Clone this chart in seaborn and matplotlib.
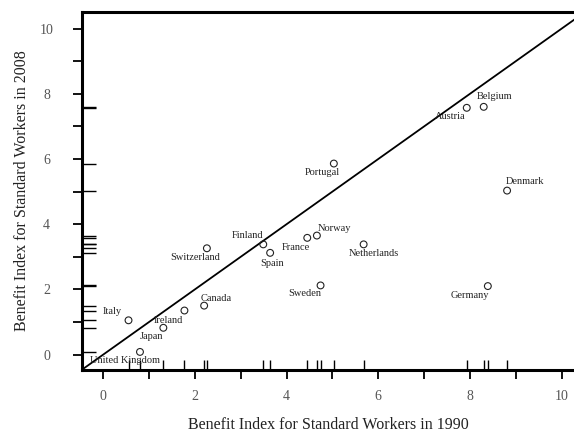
import matplotlib
matplotlib.use("Agg")
import matplotlib.pyplot as plt
import seaborn as sns
import pandas as pd
import numpy as np
from matplotlib.ticker import MultipleLocator

# Benefit index per country, 1990 vs 2008
countries = ["Italy", "Ireland", "Japan", "United Kingdom", "Canada", "Switzerland",
             "Finland", "Spain", "France", "Norway", "Sweden", "Netherlands",
             "Portugal", "Denmark", "Germany", "Austria", "Belgium"]
benefit_1990 = [0.55, 1.77, 1.31, 0.80, 2.20, 2.26,
                3.49, 3.64, 4.45, 4.66, 4.74, 5.68,
                5.03, 8.81, 8.39, 7.93, 8.30]
benefit_2008 = [1.05, 1.35, 0.82, 0.08, 1.50, 3.26,
                3.38, 3.12, 3.58, 3.65, 2.12, 3.38,
                5.86, 5.03, 2.10, 7.57, 7.60]
# label placement relative to each point (points: right, up)
label_dx = [-12, -11.5, -8.5, -10.5, 8.5, -8.5,
            -11, 1.5, -8, 13, -11.5, 7.5,
            -8, 13, -13, -12, 8]
label_dy = [6, -7, -6.5, -6.5, 5, -7,
            6.5, -8, -7, 5, -6, -6.5,
            -6.5, 6.5, -6.5, -6, 7.5]

x_ticks = [0, 2, 4, 6, 8, 10]
y_ticks = [0, 2, 4, 6, 8, 10]

df = pd.DataFrame({"country": countries, "b1990": benefit_1990, "b2008": benefit_2008})

sns.set_theme(style="white")
plt.rcParams["font.family"] = ["Liberation Serif", "DejaVu Serif"]

fig = plt.figure(figsize=(5.74, 4.34), dpi=100)
W, H = 574, 434
ax = fig.add_axes([82 / W, 1 - 370 / H, (W - 82) / W, (370 - 12) / H])

ax.set_xlim(-0.465, 10.27)
ax.set_ylim(-0.475, 10.51)

# 45-degree reference line
lim = np.array([-1.0, 11.0])
ax.plot(lim, lim, color="black", lw=1.3, zorder=2)

sns.scatterplot(data=df, x="b1990", y="b2008", ax=ax, marker="o", s=24,
                facecolor="none", edgecolor="#222222", linewidth=0.8, zorder=3)

# rug marks along both axes
sns.rugplot(data=df, x="b1990", ax=ax, height=0.028, color="black", lw=1.1, expand_margins=False)
sns.rugplot(data=df, y="b2008", ax=ax, height=0.028, color="black", lw=1.1, expand_margins=False)

for name, xv, yv, dx, dy in zip(countries, benefit_1990, benefit_2008, label_dx, label_dy):
    ax.annotate(name, (xv, yv), xytext=(dx, dy), textcoords="offset points",
                ha="center", va="center", fontsize=7.5, color="#222222", zorder=4)

for side in ["left", "bottom", "top"]:
    ax.spines[side].set_linewidth(2.2)
    ax.spines[side].set_color("black")
ax.spines["right"].set_visible(False)

ax.set_xticks(x_ticks)
ax.set_yticks(y_ticks)
ax.xaxis.set_minor_locator(MultipleLocator(1))
ax.yaxis.set_minor_locator(MultipleLocator(1))
ax.tick_params(axis="both", which="both", direction="out", length=6.5, width=1.3,
               color="black", labelsize=10, labelcolor="#555555")
ax.tick_params(axis="x", which="both", bottom=True, top=False, pad=8)
ax.tick_params(axis="y", which="both", left=True, right=False, pad=19)
for lab in ax.get_yticklabels():
    lab.set_horizontalalignment("center")

ax.set_xlabel("Benefit Index for Standard Workers in 1990", fontsize=11.5, color="#222222", labelpad=10)
ax.set_ylabel("Benefit Index for Standard Workers in 2008", fontsize=11.5, color="#222222", labelpad=7)

fig.savefig("out.png", dpi=100)
